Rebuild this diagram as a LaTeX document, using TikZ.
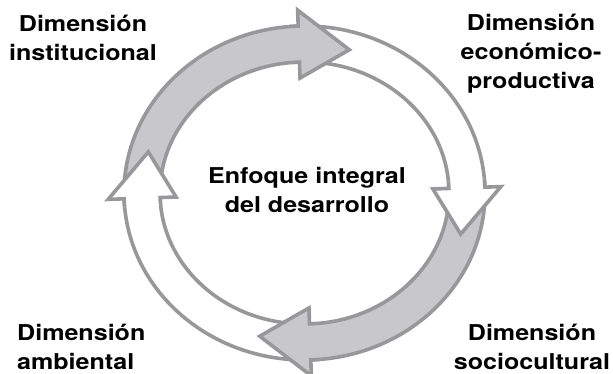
\documentclass[tikz,border=0pt]{standalone}
\usepackage{fontspec}
\setmainfont{TeX Gyre Heros}[FakeStretch=1.15]
\definecolor{ringline}{RGB}{152,152,154}
\definecolor{ringfill}{RGB}{200,200,202}
\tikzset{
  lbl/.style={font=\fontsize{21.8}{29}\selectfont\bfseries, inner sep=0pt, align=center, anchor=base},
  bandline/.style={draw=ringline, line width=3.6pt},
  headline/.style={draw=ringline, line width=3.6pt, line join=miter, miter limit=10}
}
% body: #1 tail angle, #2 head base angle, #3 fill colour
\newcommand{\ringbody}[3]{%
  \fill[#3] (#1:180.5 and 167) arc[start angle=#1, end angle=#2, x radius=180.5, y radius=167]
     -- (#2:144.5 and 131) arc[start angle=#2, end angle=#1, x radius=144.5, y radius=131] -- cycle;
  \draw[bandline] (#1:180.5 and 167) arc[start angle=#1, end angle=#2, x radius=180.5, y radius=167];
  \draw[bandline] (#1:144.5 and 131) arc[start angle=#1, end angle=#2, x radius=144.5, y radius=131];
}
% head: #1 base angle, #2 tip angle, #3 back angle, #4 fill colour
\newcommand{\ringhead}[4]{%
  \fill[#4] (#3:180.5 and 167) arc[start angle=#3, end angle=#1, x radius=180.5, y radius=167]
     -- (#1:196.5 and 183) -- (#2:162.5 and 149) -- (#1:128.5 and 115) -- (#1:144.5 and 131)
     arc[start angle=#1, end angle=#3, x radius=144.5, y radius=131] -- cycle;
  \draw[headline] (#3:180.5 and 167) arc[start angle=#3, end angle=#1, x radius=180.5, y radius=167]
     -- (#1:196.5 and 183) -- (#2:162.5 and 149) -- (#1:128.5 and 115) -- (#1:144.5 and 131)
     arc[start angle=#1, end angle=#3, x radius=144.5, y radius=131];
}
\begin{document}
\begin{tikzpicture}[x=1pt,y=1pt]
\useasboundingbox (0,0) rectangle (613,374);
\begin{scope}[shift={(304.5,181)}]
  \ringbody{182}{92}{ringfill}
  \ringbody{92}{2}{white}
  \ringbody{2}{-88}{ringfill}
  \ringbody{-88}{-178}{white}
  \ringhead{92}{74}{95}{ringfill}
  \ringhead{2}{-16}{5}{white}
  \ringhead{-88}{-106}{-85}{ringfill}
  \ringhead{-178}{-196}{-175}{white}
\end{scope}
\node[lbl] (inst) at (83,313) {Dimensión\\institucional};
\node[lbl] (econ) at (531,285) {Dimensión\\económico-\\productiva};
\node[lbl] (cent) at (307,161) {Enfoque integral\\del desarrollo};
\node[lbl, align=left, anchor=base west] (amb) at (17,4.5) {Dimensión\\ambiental};
\node[lbl] (soc) at (532,4.5) {Dimensión\\sociocultural};
\end{tikzpicture}
\end{document}
